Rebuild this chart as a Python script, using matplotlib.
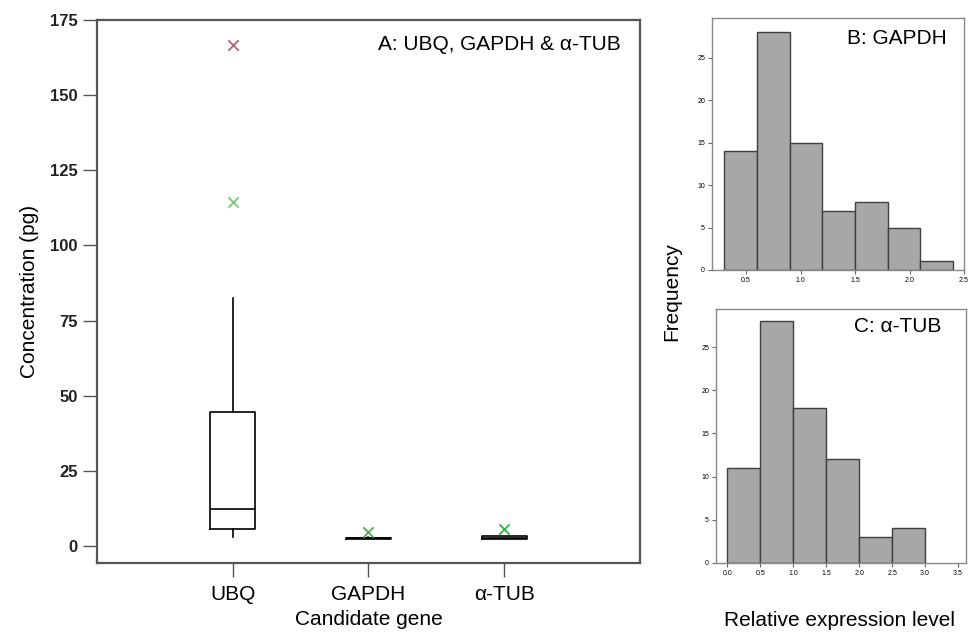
import matplotlib
matplotlib.use("Agg")
import matplotlib.pyplot as plt
import numpy as np

plt.rcParams['font.family'] = ['Liberation Sans', 'DejaVu Sans']

# panel A - box plot summary (pg)
genes = ["UBQ", "GAPDH", "α-TUB"]
whislo = [3.0, 2.4, 2.4]
q1 = [5.8, 2.3, 2.3]
med = [12.3, 2.5, 2.8]
q3 = [44.6, 2.8, 3.3]
whishi = [82.5, 2.9, 3.4]

# outliers: gene index (1-based), value
out_gene = [1, 1, 2, 3]
out_val = [166.7, 114.4, 4.6, 5.6]
out_col = ["#b5646a", "#7cc27c", "#4caf50", "#3cb043"]

# panel B - GAPDH histogram
b_edges = [0.3, 0.6, 0.9, 1.2, 1.5, 1.8, 2.1, 2.4]
b_counts = [14, 28, 15, 7, 8, 5, 1]

# panel C - a-TUB histogram
c_edges = [0.0, 0.5, 1.0, 1.5, 2.0, 2.5, 3.0]
c_counts = [11, 28, 18, 12, 3, 4]

fig = plt.figure(figsize=(9.72, 6.33), dpi=100)

# ---- A
ax = fig.add_axes([0.0998, 0.1106, 0.5586, 0.8578])
stats = []
for i in range(len(genes)):
    stats.append(dict(label=genes[i], whislo=whislo[i], q1=q1[i], med=med[i],
                      q3=q3[i], whishi=whishi[i], fliers=[]))
ax.bxp(stats, positions=[1, 2, 3], widths=0.33, showcaps=False, showfliers=False,
       boxprops=dict(color="black", linewidth=1.2),
       whiskerprops=dict(color="black", linewidth=1.2),
       medianprops=dict(color="black", linewidth=1.2))
for g, v, c in zip(out_gene, out_val, out_col):
    ax.scatter(g, v, marker="x", s=55, color=c, linewidths=1.3, zorder=3)
ax.set_xlim(0, 4)
ax.set_ylim(-5.66, 175)
ax.set_yticks(np.arange(0, 176, 25))
ax.set_xticks([1, 2, 3])
ax.set_xticklabels(genes)
ax.tick_params(axis="y", labelsize=12, length=10, width=1, color="#555555", pad=4)
ax.tick_params(axis="x", labelsize=15, length=10, width=1, color="#555555", pad=6)
for lab in ax.get_yticklabels():
    lab.set_fontweight("bold")
    lab.set_color("#222222")
for s in ax.spines.values():
    s.set_color("#555555")
    s.set_linewidth(1.6)
ax.set_ylabel("Concentration (pg)", fontsize=15, labelpad=8)
ax.set_xlabel("Candidate gene", fontsize=15, labelpad=4)
ax.text(0.965, 0.955, "A: UBQ, GAPDH & α-TUB", transform=ax.transAxes,
        fontsize=15, ha="right", va="center")

# ---- B
axb = fig.add_axes([0.7325, 0.5735, 0.2593, 0.3981])
axb.bar(b_edges[:-1], b_counts, width=np.diff(b_edges), align="edge",
        color="#a7a7aa", edgecolor="#3f3f3f", linewidth=1)
axb.set_xlim(0.188, 2.5)
axb.set_ylim(0, 29.7)
axb.set_xticks([0.5, 1.0, 1.5, 2.0, 2.5])
axb.set_yticks([0, 5, 10, 15, 20, 25])
axb.text(0.93, 0.92, "B: GAPDH", transform=axb.transAxes, fontsize=15,
         ha="right", va="center")

# ---- C
axc = fig.add_axes([0.7366, 0.1106, 0.2572, 0.4012])
axc.bar(c_edges[:-1], c_counts, width=np.diff(c_edges), align="edge",
        color="#a7a7aa", edgecolor="#3f3f3f", linewidth=1)
axc.set_xlim(-0.17, 3.62)
axc.set_ylim(0, 29.4)
axc.set_xticks([0.0, 0.5, 1.0, 1.5, 2.0, 2.5, 3.0, 3.5])
axc.set_yticks([0, 5, 10, 15, 20, 25])
axc.text(0.9, 0.93, "C: α-TUB", transform=axc.transAxes, fontsize=15,
         ha="right", va="center")

for a in (axb, axc):
    a.tick_params(labelsize=5, length=3, width=0.8, color="#666666", pad=2)
    for s in a.spines.values():
        s.set_color("#888888")
        s.set_linewidth(1)

fig.text(0.691, 0.54, "Frequency", rotation=90, fontsize=15, ha="center", va="center")
fig.text(0.864, 0.02, "Relative expression level", fontsize=15, ha="center", va="center")

fig.savefig("out.png", dpi=100)
